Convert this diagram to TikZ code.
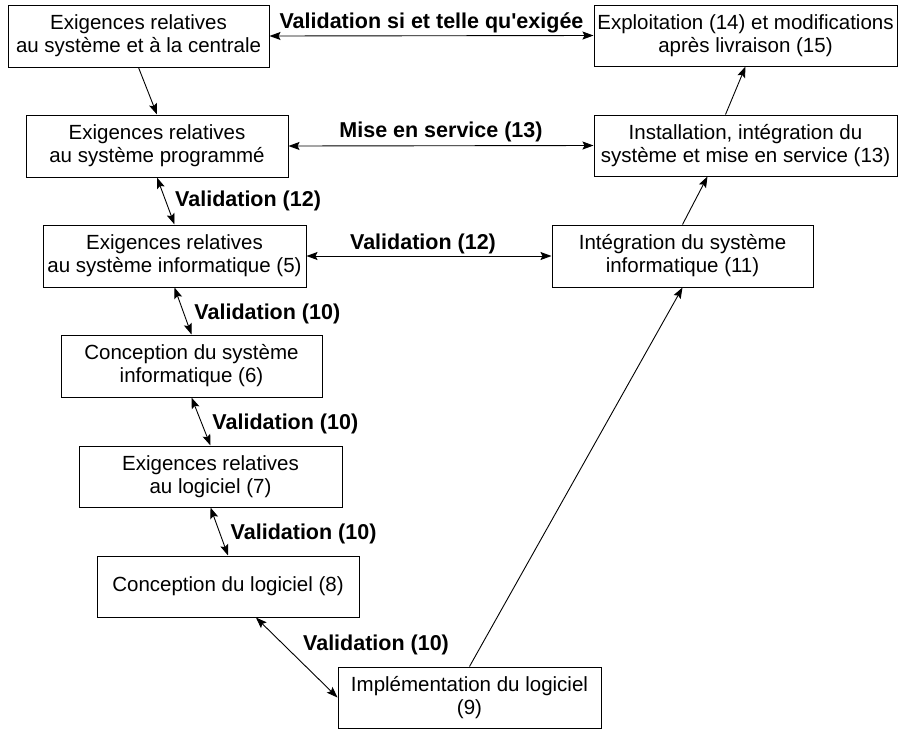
\documentclass[tikz,border=0pt]{standalone}
\usepackage{fontspec}
\setmainfont{Liberation Sans}
\newfontfamily\lsans{Liberation Sans}
\usetikzlibrary{arrows.meta,calc}
\begin{document}
\begin{tikzpicture}[x=1pt,y=-1pt,
  box/.style={draw, line width=1pt, minimum width=262pt, minimum height=62pt, inner sep=0pt, align=center, font=\fontsize{20.5}{23}\selectfont},
  lbl/.style={font=\lsans\bfseries\fontsize{21.5}{24}\selectfont, inner sep=0pt},
  tip/.tip={Stealth[length=11pt,width=8pt,inset=2pt]},
  conn/.style={line width=0.9pt, -tip},
  dconn/.style={line width=0.9pt, tip-tip}]
\useasboundingbox (0,0) rectangle (900,729);
\node[box, minimum width=261pt] (b1) at (138.5,36) {Exigences relatives\\au système et à la centrale};
\node[box, minimum width=303pt, minimum height=61pt] (b2) at (745.5,35.5) {Exploitation (14) et modifications\\après livraison (15)};
\node[box] (b3) at (157,146) {Exigences relatives\\au système programmé};
\node[box, minimum width=303pt, minimum height=61pt] (b4) at (745.5,145.5) {Installation, intégration du\\système et mise en service (13)};
\node[box, minimum width=263pt] (b5) at (174.5,256) {Exigences relatives\\au système informatique (5)};
\node[box, minimum width=261pt] (b6) at (682.5,256) {Intégration du système\\informatique (11)};
\node[box, minimum width=261pt] (b7) at (191.5,366) {Conception du système\\informatique (6)};
\node[box, minimum width=263pt, minimum height=61pt] (b8) at (210.5,476.5) {Exigences relatives\\au logiciel (7)};
\node[box, minimum height=61pt] (b9) at (228,586.5) {Conception du logiciel (8)};
\node[box, minimum width=263pt, minimum height=61pt] (b10) at (469.5,697.5) {Implémentation du logiciel\\(9)};
\draw[conn] (b1.south) -- (b3.north);
\draw[dconn] (b1.east) -- node[lbl, anchor=base, yshift=7pt] {Validation si et telle qu'exigée} (b2.west);
\draw[dconn] (b3.east) -- node[lbl, anchor=base, yshift=8pt] {Mise en service (13)} (b4.west);
\draw[dconn] (b5.east) -- node[lbl, anchor=base, yshift=7pt, xshift=-6pt] {Validation (12)} (b6.west);
\draw[dconn] (b3.south) -- node[lbl, anchor=west, xshift=9pt] {Validation (12)} (b5.north);
\draw[dconn] (b5.south) -- node[lbl, anchor=west, xshift=11pt, yshift=-3pt] {Validation (10)} (b7.north);
\draw[dconn] (b7.south) -- node[lbl, anchor=west, xshift=11pt, yshift=-2.5pt] {Validation (10)} (b8.north);
\draw[dconn] (b8.south) -- node[lbl, anchor=west, xshift=11pt, yshift=-2.5pt] {Validation (10)} (b9.north);
\draw[dconn] (b9.-48) -- node[lbl, anchor=base west, xshift=6pt, yshift=7pt] {Validation (10)} (b10.west);
\draw[conn] (b10.north) -- (b6.south);
\draw[conn] (b6.north) -- ([xshift=-38pt]b4.south);
\draw[conn] ([xshift=-20pt]b4.north) -- (b2.south);
\end{tikzpicture}
\end{document}
